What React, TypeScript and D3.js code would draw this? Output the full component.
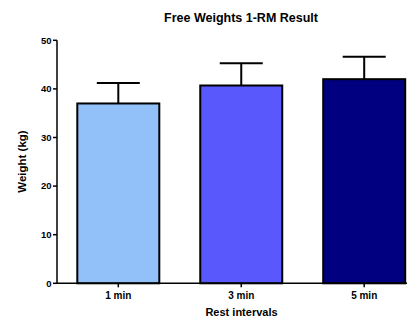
import React from "react";
import * as d3 from "d3";

const categories = ["1 min", "3 min", "5 min"];
const means = [37.0, 40.7, 42.0];
const errorTops = [41.2, 45.3, 46.6];
const colors = ["#92C1F9", "#5858FC", "#000080"];
const yTicks = [0, 10, 20, 30, 40, 50];

export default function App() {
  const W = 418, H = 321;
  const y = d3.scaleLinear().domain([0, 50]).range([283.3, 40.3]);
  const x = d3.scalePoint<string>().domain(categories).range([118.3, 364.2]);
  const barW = 82;
  const capHalf = 21.5;
  const axisX = 57;
  const font = "Arial, 'Liberation Sans', sans-serif";
  return (
    <svg width={W} height={H} style={{ position: "absolute", left: 0, top: 0 }} fontFamily={font}>
      <rect width={W} height={H} fill="#fff" />
      <text x={241} y={22} textAnchor="middle" fontSize={12.5} fontWeight="bold">Free Weights 1-RM Result</text>
      {categories.map((c, i) => {
        const cx = x(c)!;
        return (
          <g key={c}>
            <line x1={cx} x2={cx} y1={y(means[i])} y2={y(errorTops[i])} stroke="#000" strokeWidth={2} />
            <line x1={cx - capHalf} x2={cx + capHalf} y1={y(errorTops[i])} y2={y(errorTops[i])} stroke="#000" strokeWidth={2} />
            <rect x={cx - barW / 2} y={y(means[i])} width={barW} height={y(0) - y(means[i])} fill={colors[i]} stroke="#000" strokeWidth={2} />
          </g>
        );
      })}
      <line x1={axisX} x2={axisX} y1={y(50)} y2={y(0)} stroke="#000" strokeWidth={1.5} />
      <line x1={axisX} x2={407} y1={y(0)} y2={y(0)} stroke="#000" strokeWidth={1.5} />
      {yTicks.map(t => (
        <g key={t}>
          <line x1={axisX - 4} x2={axisX} y1={y(t)} y2={y(t)} stroke="#000" strokeWidth={1.5} />
          <text x={axisX - 5.5} y={y(t)} dy="0.35em" textAnchor="end" fontSize={9.5} fontWeight="bold">{t}</text>
        </g>
      ))}
      {categories.map(c => (
        <g key={c}>
          <line x1={x(c)!} x2={x(c)!} y1={y(0)} y2={y(0) + 4} stroke="#000" strokeWidth={1.5} />
          <text x={x(c)!} y={298.5} textAnchor="middle" fontSize={10} fontWeight="bold">{c}</text>
        </g>
      ))}
      <text x={241.5} y={315.5} textAnchor="middle" fontSize={11} fontWeight="bold">Rest intervals</text>
      <text transform={`translate(26,161.5) rotate(-90)`} textAnchor="middle" fontSize={11.5} fontWeight="bold">Weight (kg)</text>
    </svg>
  );
}
